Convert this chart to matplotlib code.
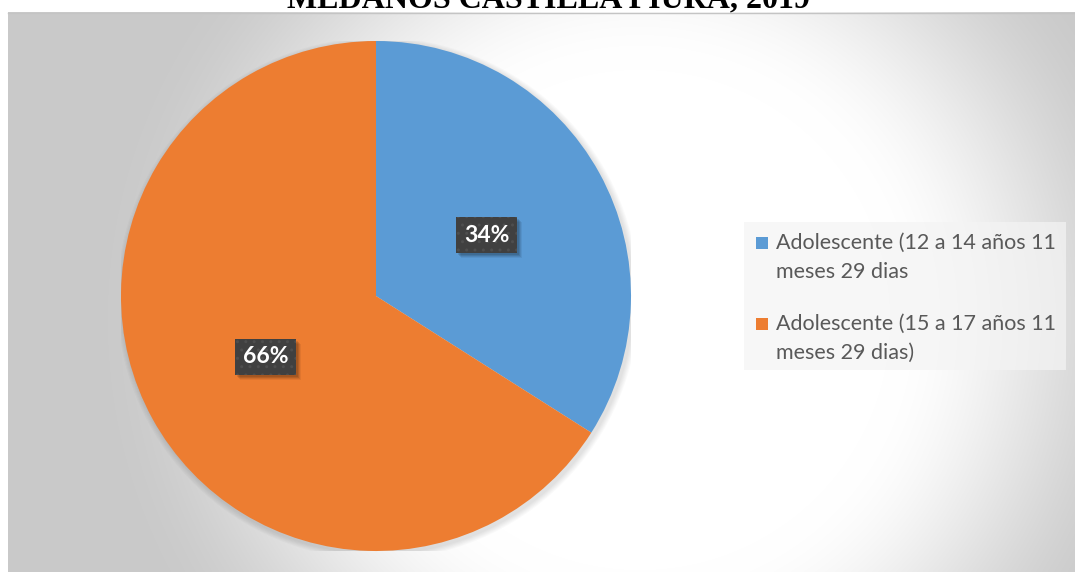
import numpy as np
import matplotlib.pyplot as plt
from matplotlib.patches import Rectangle, Circle
from matplotlib.lines import Line2D
from matplotlib.transforms import offset_copy

# data
labels = ['Adolescente (12 a 14 años 11\nmeses 29 dias',
          'Adolescente (15 a 17 años 11\nmeses 29 dias)']
values = [34, 66]
colors = ['#5B9BD5', '#ED7D31']
title = 'MEDANOS CASTILLA PIURA, 2019'

W, H = 1075, 572
fig = plt.figure(figsize=(W / 100, H / 100), dpi=100)

# chart area with a soft radial gradient
bg = fig.add_axes([8 / W, 0, 1 - 8 / W, 1 - 12 / H])
xx, yy = np.meshgrid(np.arange(8, W) + 0.5, np.arange(12, H) + 0.5)
d = np.hypot(xx - 640, yy - 320)
t = np.clip((d - 250) / 300, 0, 1)
t = t * t * (3 - 2 * t)
shade = 1 - 0.21 * t
bg.imshow(np.dstack([shade] * 3), extent=(0, 1, 0, 1), aspect='auto',
          interpolation='bilinear')
bg.set_xlim(0, 1)
bg.set_ylim(0, 1)
bg.axis('off')
fig.add_artist(Line2D([8 / W, 1], [1 - 12.5 / H] * 2, color='#c4c4c4', lw=1))

# pie
ax = fig.add_axes([(376 - 255) / W, (H - 296 - 255) / H, 510 / W, 510 / H])
for k in range(1, 7):
    ax.add_patch(Circle((0.008, -0.01), 1 + k * 0.004, facecolor='black',
                        alpha=0.018, lw=0, zorder=0))
wedges, texts, autotexts = ax.pie(
    values, colors=colors, startangle=90, counterclock=False, radius=1,
    autopct='%d%%', pctdistance=0.495,
    wedgeprops=dict(linewidth=0),
    textprops=dict(color='white', fontsize=16.5, fontweight='bold',
                   family='Lato'))
for w in wedges:
    w.set_zorder(1)

for at in autotexts:
    x, y = at.get_position()
    for k, a in [(2, 0.10), (3, 0.10), (4, 0.08), (5, 0.06)]:
        tr = offset_copy(ax.transData, fig=fig, x=k, y=-k, units='dots')
        ax.text(x, y, at.get_text(), transform=tr, ha='center', va='center',
                color='none', fontsize=16.5, fontweight='bold', family='Lato',
                zorder=2,
                bbox=dict(boxstyle='square,pad=0.34', facecolor='black',
                          alpha=a, lw=0))
    at.set_zorder(3)
    at.set_bbox(dict(boxstyle='square,pad=0.34', facecolor='#404040',
                     edgecolor='#4e4e4e', lw=0, hatch='..'))

ax.set_xlim(-1, 1)
ax.set_ylim(-1, 1)
ax.axis('off')

# overlay in pixel units for title and legend
ov = fig.add_axes([0, 0, 1, 1])
ov.set_xlim(0, W)
ov.set_ylim(H, 0)
ov.axis('off')

ov.text(548, 7, title, ha='center', va='baseline', family='Liberation Serif',
        fontweight='bold', fontsize=23, color='black')

ov.add_patch(Rectangle((744, 222), 322, 148, facecolor='#f4f4f4', alpha=0.7,
                       lw=0))
for i, (lab, c) in enumerate(zip(labels, colors)):
    y0 = 237 + i * 81
    ov.add_patch(Rectangle((756, y0), 12, 12, facecolor=c, lw=0))
    ov.text(776, y0 - 4, lab, ha='left', va='top', family='Lato',
            fontsize=15.5, color='#595959', linespacing=1.55)

fig.savefig('out.png', dpi=100)
